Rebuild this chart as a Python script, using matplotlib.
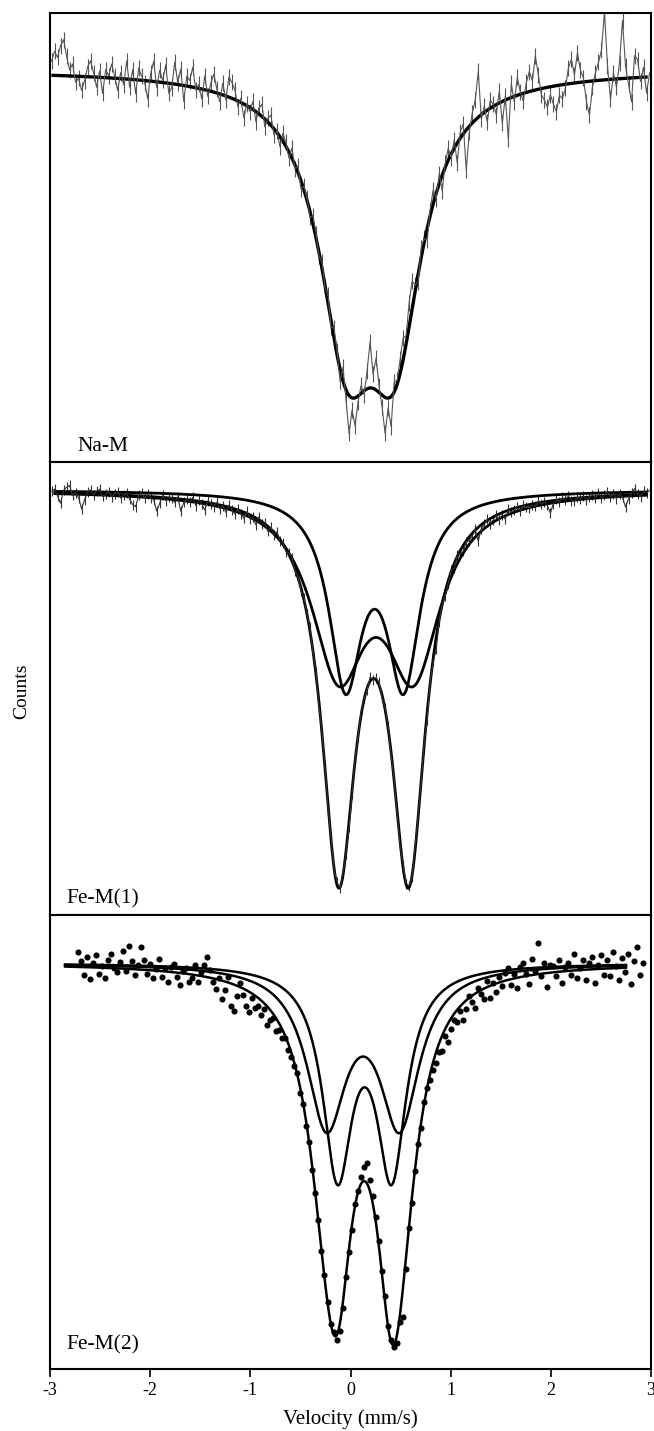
import numpy as np
import matplotlib.pyplot as plt

plt.rcParams['font.family'] = ['Liberation Serif', 'DejaVu Serif']
plt.rcParams['axes.unicode_minus'] = False

# ---- Na-M : single doublet, measured spectrum with error bars ----
vel_na = np.linspace(-2.985, 2.985, 200)
# deviation of each channel from the fit, in 0.01 % units
resid_na = [
    14, 24, 18, 30, 36, 20, 6, 12, -6, -2, -14, -4, 10, 16, 4, -10, 6, -16, 8, 2,
    14, 2, -12, 6, -6, 18, -8, 10, -14, 12, 4, -2, -18, 8, 20, -6, 12, 2, 18, -10,
    -4, 22, 2, 16, -16, 10, 6, 20, -2, 4, -10, 14, -6, 8, 18, 4, -8, 12, -4, 20,
    16, 10, -6, 4, -14, 2, -4, 8, -10, 6, 12, -8, 4, 10, -6, 2, -10, 8, 4, -6,
    10, -4, 6, -8, 4, 2, -6, 8, 4, -4, 6, -2, 8, -6, 10, 4, -12, 14, -10, -38,
    -12, -28, -6, 8, -4, 18, 46, 14, 32, 6, -12, -36, -10, -30, 10, 4, 14, 22, 8, 24,
    28, 6, -8, 10, 4, -12, 6, 14, -6, 10, -16, 4, 12, -4, 8, -20, 6, 10, -40, -6,
    10, 20, 46, -4, 6, -12, 8, 2, -10, 12, -22, 4, -40, 14, -6, 18, 2, -8, 10, 20,
    10, 34, 14, -6, -12, -20, -8, -18, -26, -10, -14, -4, 16, 24, 8, 30, 12, 4, -20, -34,
    -6, 8, 18, 30, 68, 14, -20, 6, -8, 16, 58, 12, -6, -24, 22, 18, -4, 10, -16, 4,
]
na_lines = [-0.04, 0.44]
na_hwhm = 0.33
na_depth = 2.43

# ---- Fe-M(1) : total fit and two sub-doublets ----
vel_fe1 = np.linspace(-2.985, 2.985, 200)
resid_fe1 = [
    2, 4, -3, -10, 3, 6, 8, -2, 1, -4, -15, -6, 2, 4, -1, 3, 5, -2, 0, 3,
    -2, 1, 3, -3, 0, 2, -4, -9, -11, 1, 3, -2, 2, -1, -3, -14, -6, 2, -3, 1,
    0, -4, 2, -12, -3, 1, -2, 3, -5, 1, -2, -8, 2, -1, -3, 2, -4, 0, -6, 2,
    -2, -5, 1, -3, -6, 2, -4, -1, -7, 3, -2, 1, -5, 2, -3, 4, -2, 1, -3, 2,
    3, -2, 1, -3, 2, 0, 4, -2, 3, -4, 2, 1, -3, 2, -2, 3, -1, 2, -3, -6,
    -4, 2, -1, 3, 1, -2, 4, -1, 2, 3, -2, 1, 2, -3, 1, -2, -4, 3, 1, 2,
    -2, 3, 1, -2, 2, -8, 1, -3, -12, -2, 2, -4, -3, 1, -5, 2, -3, -6, -1, -4,
    -3, 1, -14, -4, -2, 1, -5, -3, 0, -6, -2, -8, 1, -3, -2, 0, -4, 1, -2, -3,
    -1, -3, 2, -2, 0, -4, -12, -3, 1, -2, 2, -1, 3, -2, -3, 1, -1, 2, -3, 0,
    2, -1, 3, -2, 1, 4, -1, 2, -3, 1, -2, -12, -4, 2, 6, 1, -2, 3, 1, 4,
]
fe1_total = dict(lines=[-0.12, 0.58], hwhm=0.205, depth=3.69)
fe1_sub_a = dict(lines=[-0.05, 0.53], hwhm=0.20, depth=1.85)
fe1_sub_b = dict(lines=[-0.12, 0.63], hwhm=0.33, depth=1.69)

# ---- Fe-M(2) : total fit and two sub-doublets, points only ----
vel_fe2 = np.linspace(-2.72, 2.92, 189)
resid_fe2 = [
    15, 6, -8, 10, -12, 4, 12, -6, 2, -10, 8, 14, 0, -4, 6, 18, -2, 23, 8, -6,
    4, 23, 10, -4, 6, -8, 2, 12, -6, 3, -10, 5, 8, -4, -12, 2, 6, -8, -3, 10,
    -6, 4, 12, 20, 8, -4, -10, 2, -18, -8, 6, -22, -26, -10, 4, -6, -16, -20, -4, -12,
    -8, -14, -6, -18, -10, -4, -12, -6, -8, -2, -6, -4, -3, 2, -4, 1, -2, 3, -1, 2,
    2, -1, 3, 0, -2, 2, -4, -6, -3, 2, 1, -2, 4, 3, 8, 14, 20, 10, 6, 3,
    2, -1, 2, -3, 0, -2, -6, -4, -26, -8, 2, -3, 1, 3, -2, 4, 2, -4, -6, -10,
    -8, -14, -6, -18, -10, -6, -12, -4, -16, -8, 2, -6, -14, 4, -4, -10, 6, -12, 2, -8,
    6, -4, 8, 12, -6, 4, -10, 10, 14, 2, -8, 16, 4, 31, -2, 10, -14, 8, 6, -4,
    12, -12, 4, 8, -4, 16, -8, 2, 10, -10, 6, 12, -14, 4, 14, -6, 8, -8, 16, 2,
    -12, 10, -4, 14, -16, 6, 20, -8, 4,
]
fe2_sub_a = dict(lines=[-0.24, 0.49], hwhm=0.24, depth=1.55)
fe2_sub_b = dict(lines=[-0.13, 0.41], hwhm=0.18, depth=2.02)


def doublet(v, lines, hwhm, depth):
    """Lorentzian quadrupole doublet on a 100 % baseline."""
    absorb = sum(1.0 / (1.0 + ((v - c) / hwhm) ** 2) for c in lines)
    return 100.0 - depth * absorb


fig = plt.figure(figsize=(6.54, 14.31), dpi=100)
left, width = 0.0765, 0.919
ax1 = fig.add_axes([left, 0.6771, width, 0.3138])
ax2 = fig.add_axes([left, 0.3606, width, 0.3166])
ax3 = fig.add_axes([left, 0.0433, width, 0.3173])

# Na-M
v = np.linspace(-2.97, 2.95, 600)
fit_na = doublet(vel_na, na_lines, na_hwhm, na_depth)
data_na = fit_na + np.array(resid_na) * 0.01
ax1.errorbar(vel_na, data_na, yerr=0.08, color='#555555', lw=0.8,
             elinewidth=0.8, capsize=0)
ax1.plot(v, doublet(v, na_lines, na_hwhm, na_depth), color='black', lw=2.4)
ax1.set_ylim(96.08, 100.57)
ax1.text(0.045, 0.025, 'Na-M', transform=ax1.transAxes, fontsize=15.5,
         va='baseline')

# Fe-M(1)
v = np.linspace(-2.95, 2.95, 600)
data_fe1 = doublet(vel_fe1, **fe1_total) + np.array(resid_fe1) * 0.01
ax2.errorbar(vel_fe1, data_fe1, yerr=0.05, color='#333333', lw=0.8,
             elinewidth=0.8, capsize=0)
for p in (fe1_total, fe1_sub_a, fe1_sub_b):
    ax2.plot(v, doublet(v, **p), color='black', lw=2.0)
ax2.set_ylim(95.75, 100.28)
ax2.text(0.028, 0.026, 'Fe-M(1)', transform=ax2.transAxes, fontsize=15.5,
         va='baseline')

# Fe-M(2)
v = np.linspace(-2.85, 2.75, 600)
fit_fe2 = doublet(vel_fe2, **fe2_sub_a) + doublet(vel_fe2, **fe2_sub_b) - 100
data_fe2 = fit_fe2 + np.array(resid_fe2) * 0.01
ax3.plot(vel_fe2, data_fe2, 'o', color='black', ms=4.4, mew=0)
total = doublet(v, **fe2_sub_a) + doublet(v, **fe2_sub_b) - 100
ax3.plot(v, total, color='black', lw=1.8)
for p in (fe2_sub_a, fe2_sub_b):
    ax3.plot(v, doublet(v, **p), color='black', lw=1.8)
ax3.set_ylim(95.94, 100.48)
ax3.text(0.028, 0.042, 'Fe-M(2)', transform=ax3.transAxes, fontsize=15.5,
         va='baseline')

for ax in (ax1, ax2, ax3):
    ax.set_xlim(-3, 3)
    ax.set_yticks([])
    for s in ax.spines.values():
        s.set_linewidth(1.5)
for ax in (ax1, ax2):
    ax.set_xticks([])

ax3.set_xticks([-3, -2, -1, 0, 1, 2, 3])
ax3.tick_params(axis='x', direction='out', length=6, width=1.2,
                labelsize=13, pad=3)

fig.text(left + width / 2, 0.0084, 'Velocity (mm/s)', ha='center',
         va='center', fontsize=15)
fig.text(0.034, 0.517, 'Counts', rotation=90, ha='center', va='center',
         fontsize=14)

fig.savefig('out.png', dpi=100)
